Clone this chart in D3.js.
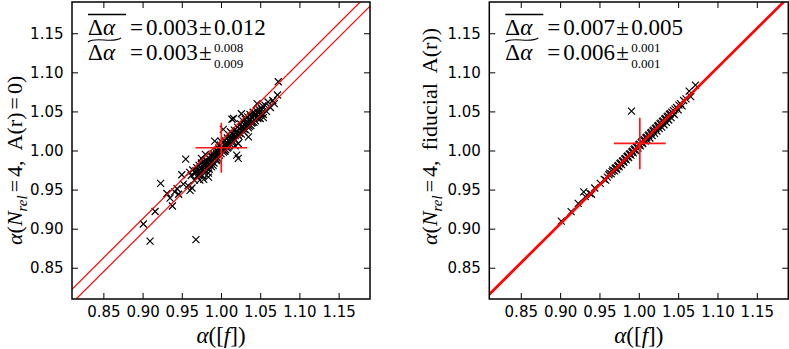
<!DOCTYPE html>
<html>
<head>
<meta charset="utf-8">
<script src="https://cdn.jsdelivr.net/npm/d3@7"></script>
<style>
  body { margin: 0; background: #fff; }
  svg { display: block; }
  .tick text { font-family: "DejaVu Sans", sans-serif; font-size: 15px; fill: #000; }
  .math { font-family: "Liberation Serif", "DejaVu Serif", serif; fill: #000; }
</style>
</head>
<body>
<svg id="chart" width="789" height="349"></svg>
<script>
// axis range + ticks (both panels share them)
const domain = [0.81, 1.19];
const tickValues = [0.85, 0.90, 0.95, 1.00, 1.05, 1.10, 1.15];

// left panel: alpha([f]) vs alpha(N_rel=4, A(r)=0)
const leftPoints = [
  [0.901, 0.906], [0.9095, 0.884], [0.968, 0.886], [0.916, 0.922], [0.923, 0.958],
  [0.931, 0.945], [0.935, 0.939], [0.938, 0.929], [0.941, 0.947], [0.944, 0.951],
  [0.946, 0.944], [0.950, 0.969], [0.952, 0.957], [0.955, 0.989], [0.958, 0.955],
  [0.9605, 0.949], [0.963, 0.952], [0.973, 0.962], [0.978, 0.963], [0.984, 0.966],
  [0.960, 0.972], [0.962, 0.968], [0.964, 0.975], [0.966, 0.962], [0.967, 0.971],
  [0.969, 0.978], [0.970, 0.966], [0.971, 0.974], [0.972, 0.981], [0.973, 0.970],
  [0.974, 0.977], [0.975, 0.984], [0.976, 0.968], [0.977, 0.979], [0.978, 0.986],
  [0.979, 0.974], [0.980, 0.981], [0.981, 0.988], [0.982, 0.977], [0.983, 0.984],
  [0.984, 0.971], [0.985, 0.990], [0.986, 0.982], [0.987, 0.993], [0.988, 0.979],
  [0.989, 0.986], [0.990, 0.996], [0.991, 0.984], [0.992, 0.991], [0.993, 0.998],
  [0.994, 0.987], [0.995, 1.000], [0.996, 0.990], [0.997, 1.003], [0.998, 0.994],
  [0.999, 1.007], [1.000, 0.996], [1.001, 1.004], [1.002, 1.010], [1.003, 0.998],
  [1.004, 1.007], [1.005, 1.013], [1.006, 1.001], [1.007, 1.010], [1.008, 1.016],
  [1.009, 1.004], [1.010, 1.012], [1.011, 1.019], [1.012, 1.008], [1.013, 1.016],
  [1.014, 1.022], [1.015, 1.011], [1.016, 1.020], [1.017, 1.026], [1.018, 1.014],
  [1.019, 1.023], [1.020, 0.994], [1.022, 0.990], [1.021, 1.030], [1.022, 1.009],
  [1.023, 1.018], [1.024, 1.027], [1.025, 1.034], [1.026, 1.021], [1.027, 1.031],
  [1.028, 1.038], [1.029, 1.024], [1.030, 1.033], [1.031, 1.040], [1.032, 1.026],
  [1.033, 1.036], [1.034, 1.043], [1.035, 1.029], [1.035, 1.0175], [1.036, 1.039],
  [1.037, 1.046], [1.037, 1.039], [1.038, 1.032], [1.039, 1.035], [1.040, 1.042],
  [1.041, 1.049], [1.042, 1.036], [1.043, 1.045], [1.044, 1.038], [1.045, 1.051],
  [1.046, 1.060], [1.047, 1.041], [1.048, 1.048], [1.050, 1.041], [1.052, 1.053],
  [1.054, 1.046], [1.054, 1.042], [1.056, 1.058], [1.058, 1.050], [1.060, 1.062],
  [1.063, 1.055], [1.066, 1.064], [1.068, 1.060], [1.072, 1.071], [1.073, 1.088],
  [1.014, 1.040], [1.016, 1.041], [1.026, 1.047], [1.003, 1.027], [0.992, 1.012],
  [0.975, 0.990], [0.980, 0.995], [0.985, 0.976], [0.990, 0.981], [0.995, 0.988],
  [1.000, 1.012], [1.005, 0.999], [1.008, 1.003], [1.012, 1.024], [1.018, 1.006],
  [0.968, 0.974], [0.971, 0.969], [0.974, 0.973], [0.977, 0.975], [0.979, 0.983],
  [0.982, 0.986], [0.984, 0.980], [0.987, 0.985], [0.989, 0.992], [0.991, 0.993],
  [0.994, 0.995], [0.996, 0.998], [0.998, 1.001], [1.000, 1.003], [1.002, 1.002],
  [1.004, 1.000], [1.006, 1.008], [1.008, 1.009], [1.010, 1.006], [1.012, 1.015],
  [1.014, 1.013], [1.016, 1.016], [1.018, 1.019], [1.020, 1.025], [1.022, 1.020],
  [1.024, 1.022], [1.026, 1.030], [1.028, 1.028], [1.030, 1.027], [1.032, 1.035],
  [1.034, 1.033], [1.036, 1.031], [1.038, 1.043], [1.040, 1.036], [1.042, 1.044],
  [1.044, 1.047], [1.046, 1.043], [1.049, 1.052], [1.051, 1.047], [1.053, 1.057]
];

// right panel: alpha([f]) vs alpha(N_rel=4, fiducial A(r))
const rightPoints = [
  [0.9015, 0.9097], [0.914, 0.9217], [0.923, 0.9324], [0.930, 0.947], [0.932, 0.941],
  [0.938, 0.945], [0.940, 0.944], [0.944, 0.952], [0.951, 0.958], [0.956, 0.963],
  [0.958, 0.962], [0.960, 0.966], [0.962, 0.969], [0.963, 0.971], [0.965, 0.970],
  [0.966, 0.973], [0.967, 0.975], [0.969, 0.974], [0.970, 0.977], [0.971, 0.978],
  [0.972, 0.976], [0.973, 0.980], [0.974, 0.981], [0.975, 0.979], [0.976, 0.983],
  [0.977, 0.984], [0.978, 0.982], [0.979, 0.986], [0.980, 0.987], [0.981, 0.985],
  [0.982, 0.989], [0.983, 0.990], [0.984, 0.988], [0.985, 0.992], [0.986, 0.993],
  [0.987, 0.991], [0.988, 0.995], [0.989, 0.996], [0.990, 0.994], [0.991, 0.998],
  [0.9907, 1.0504], [0.992, 0.999], [0.993, 0.997], [0.994, 1.001], [0.995, 1.002],
  [0.996, 1.000], [0.997, 1.004], [0.998, 1.005], [0.999, 1.003], [1.000, 1.007],
  [1.001, 1.008], [1.002, 1.006], [1.003, 1.010], [1.004, 1.011], [1.005, 1.009],
  [1.006, 1.013], [1.007, 1.014], [1.008, 1.012], [1.009, 1.016], [1.010, 1.017],
  [1.011, 1.013], [1.012, 1.019], [1.013, 1.020], [1.014, 1.016], [1.015, 1.022],
  [1.016, 1.023], [1.017, 1.019], [1.018, 1.025], [1.019, 1.026], [1.020, 1.022],
  [1.021, 1.028], [1.022, 1.029], [1.023, 1.025], [1.024, 1.031], [1.025, 1.032],
  [1.026, 1.028], [1.027, 1.034], [1.028, 1.035], [1.029, 1.030], [1.030, 1.037],
  [1.031, 1.038], [1.032, 1.033], [1.033, 1.040], [1.034, 1.041], [1.035, 1.036],
  [1.036, 1.043], [1.037, 1.044], [1.038, 1.039], [1.039, 1.046], [1.040, 1.047],
  [1.041, 1.042], [1.042, 1.049], [1.044, 1.051], [1.045, 1.046], [1.046, 1.053],
  [1.048, 1.055], [1.050, 1.052], [1.051, 1.058], [1.053, 1.060], [1.055, 1.057],
  [1.057, 1.064], [1.060, 1.066], [1.064, 1.076], [1.066, 1.069], [1.072, 1.0837]
];

// red y = x + offset lines
const leftLineOffsets = [0.0125, -0.0053];
const rightLineOffsets = [0.005, 0.007];

// red error crosses [x, y, xerr, yerr]
const leftCross = [1.0004, 1.0035, 0.033, 0.032];
const rightCross = [1.0013, 1.009, 0.033, 0.033];

// annotation numbers: mean, sd, median, upper, lower
const leftStats = ["0.003", "0.012", "0.003", "0.008", "0.009"];
const rightStats = ["0.007", "0.005", "0.006", "0.001", "0.001"];

const svg = d3.select("#chart");
const top0 = 2, bottom0 = 299;

function drawPanel(x0, x1, points, offsets, lineWidth, cross, stats, yLabelParts, labelX) {
  const x = d3.scaleLinear().domain(domain).range([x0, x1]);
  const y = d3.scaleLinear().domain(domain).range([bottom0, top0]);
  const g = svg.append("g");
  const clipId = "clip" + Math.round(x0);
  g.append("clipPath").attr("id", clipId).append("rect")
    .attr("x", x0).attr("y", top0).attr("width", x1 - x0).attr("height", bottom0 - top0);

  const plot = g.append("g").attr("clip-path", `url(#${clipId})`);

  // x markers
  plot.selectAll("path.pt").data(points).join("path")
    .attr("class", "pt")
    .attr("transform", d => `translate(${x(d[0])},${y(d[1])})`)
    .attr("d", "M-3.5,-3.5L3.5,3.5M-3.5,3.5L3.5,-3.5")
    .attr("stroke", "#000").attr("stroke-width", 1.2).attr("fill", "none");

  // red reference lines
  plot.selectAll("line.ref").data(offsets).join("line")
    .attr("class", "ref")
    .attr("x1", x(domain[0])).attr("y1", d => y(domain[0] + d))
    .attr("x2", x(domain[1])).attr("y2", d => y(domain[1] + d))
    .style("stroke", "red").style("stroke-width", lineWidth);

  // error cross
  const [cx, cy, ex, ey] = cross;
  plot.append("line").attr("x1", x(cx - ex)).attr("x2", x(cx + ex)).attr("y1", y(cy)).attr("y2", y(cy))
    .style("stroke", "#ff1a1a").style("stroke-width", 1.7);
  plot.append("line").attr("x1", x(cx)).attr("x2", x(cx)).attr("y1", y(cy - ey)).attr("y2", y(cy + ey))
    .style("stroke", "#ff1a1a").style("stroke-width", 1.7);

  // axes, ticks pointing inward on all sides
  const fmt = d3.format(".2f");
  const ax = (a, transform, labels) => {
    const sel = g.append("g").attr("transform", transform)
      .call(a.tickValues(tickValues).tickSizeInner(-6).tickSizeOuter(0).tickPadding(7.5).tickFormat(labels ? fmt : ""));
    sel.select(".domain").remove();
    sel.selectAll(".tick line").attr("stroke", "#000").attr("stroke-width", 1);
    return sel;
  };
  ax(d3.axisBottom(x), `translate(0,${bottom0})`, true);
  ax(d3.axisTop(x), `translate(0,${top0})`, false);
  ax(d3.axisLeft(y), `translate(${x0},0)`, true).selectAll("text").attr("x", -8.5);
  ax(d3.axisRight(y), `translate(${x1},0)`, false);

  g.append("rect").attr("x", x0).attr("y", top0).attr("width", x1 - x0).attr("height", bottom0 - top0)
    .attr("fill", "none").attr("stroke", "#000").attr("stroke-width", 1.5);

  // annotation
  const ax0 = x0 + 16;
  const ann = g.append("g").attr("class", "math");
  const piece = (txt, px, py, size, italic) => ann.append("text").attr("x", px).attr("y", py)
    .attr("font-size", size).attr("font-style", italic ? "italic" : "normal").text(txt);
  [35, 60].forEach((by, i) => {
    piece("Δ", ax0, by, 23, false);
    piece("α", ax0 + 15, by, 23, true);
    piece("=", ax0 + 42, by, 23, false);
    piece(i === 0 ? stats[0] : stats[2], ax0 + 58, by, 23, false);
    piece("±", ax0 + 111, by, 23, false);
  });
  piece(stats[1], ax0 + 126, 35, 23, false);
  piece(stats[3], ax0 + 126, 52, 13, false);
  piece(stats[4], ax0 + 126, 67.5, 13, false);
  ann.append("line").attr("x1", ax0).attr("x2", ax0 + 38).attr("y1", 14.5).attr("y2", 14.5)
    .attr("stroke", "#000").attr("stroke-width", 1.3);
  ann.append("path")
    .attr("d", `M${ax0},${42} C${ax0 + 8},${36} ${ax0 + 24},${44} ${ax0 + 33},${38}`)
    .attr("fill", "none").attr("stroke", "#000").attr("stroke-width", 1.2);

  // x label: alpha([f])
  const xl = g.append("text").attr("class", "math").attr("font-size", 23)
    .attr("x", (x0 + x1) / 2).attr("y", 343).attr("text-anchor", "middle");
  xl.append("tspan").attr("font-style", "italic").text("α");
  xl.append("tspan").text("([");
  xl.append("tspan").attr("font-style", "italic").text("f");
  xl.append("tspan").text("])");

  // y label (rotated)
  const yl = g.append("text").attr("class", "math").attr("font-size", 22)
    .attr("transform", `translate(${labelX},245) rotate(-90)`);
  yLabelParts.forEach(p => {
    const t = yl.append("tspan").text(p.t);
    if (p.i) t.attr("font-style", "italic");
    if (p.dx) t.attr("dx", p.dx);
    if (p.sub) t.attr("font-size", 15).attr("dy", 5);
    if (p.up) t.attr("dy", -5);
  });
}

const commonStart = [
  { t: "α", i: true }, { t: "(" }, { t: "N", i: true }, { t: "rel", i: true, sub: true },
  { t: "=", dx: 3, up: true }, { t: "4", dx: 3 }, { t: "," }
];
const leftLabel = commonStart.concat([{ t: "A(r)", dx: 10 }, { t: "=", dx: 3 }, { t: "0)", dx: 3 }]);
const rightLabel = commonStart.concat([{ t: "fiducial", dx: 10 }, { t: "A(r))", dx: 10 }]);

drawPanel(72, 370, leftPoints, leftLineOffsets, 1.2, leftCross, leftStats, leftLabel, 22);
drawPanel(489.3, 788.3, rightPoints, rightLineOffsets, 1.6, rightCross, rightStats, rightLabel, 437);
</script>
</body>
</html>
